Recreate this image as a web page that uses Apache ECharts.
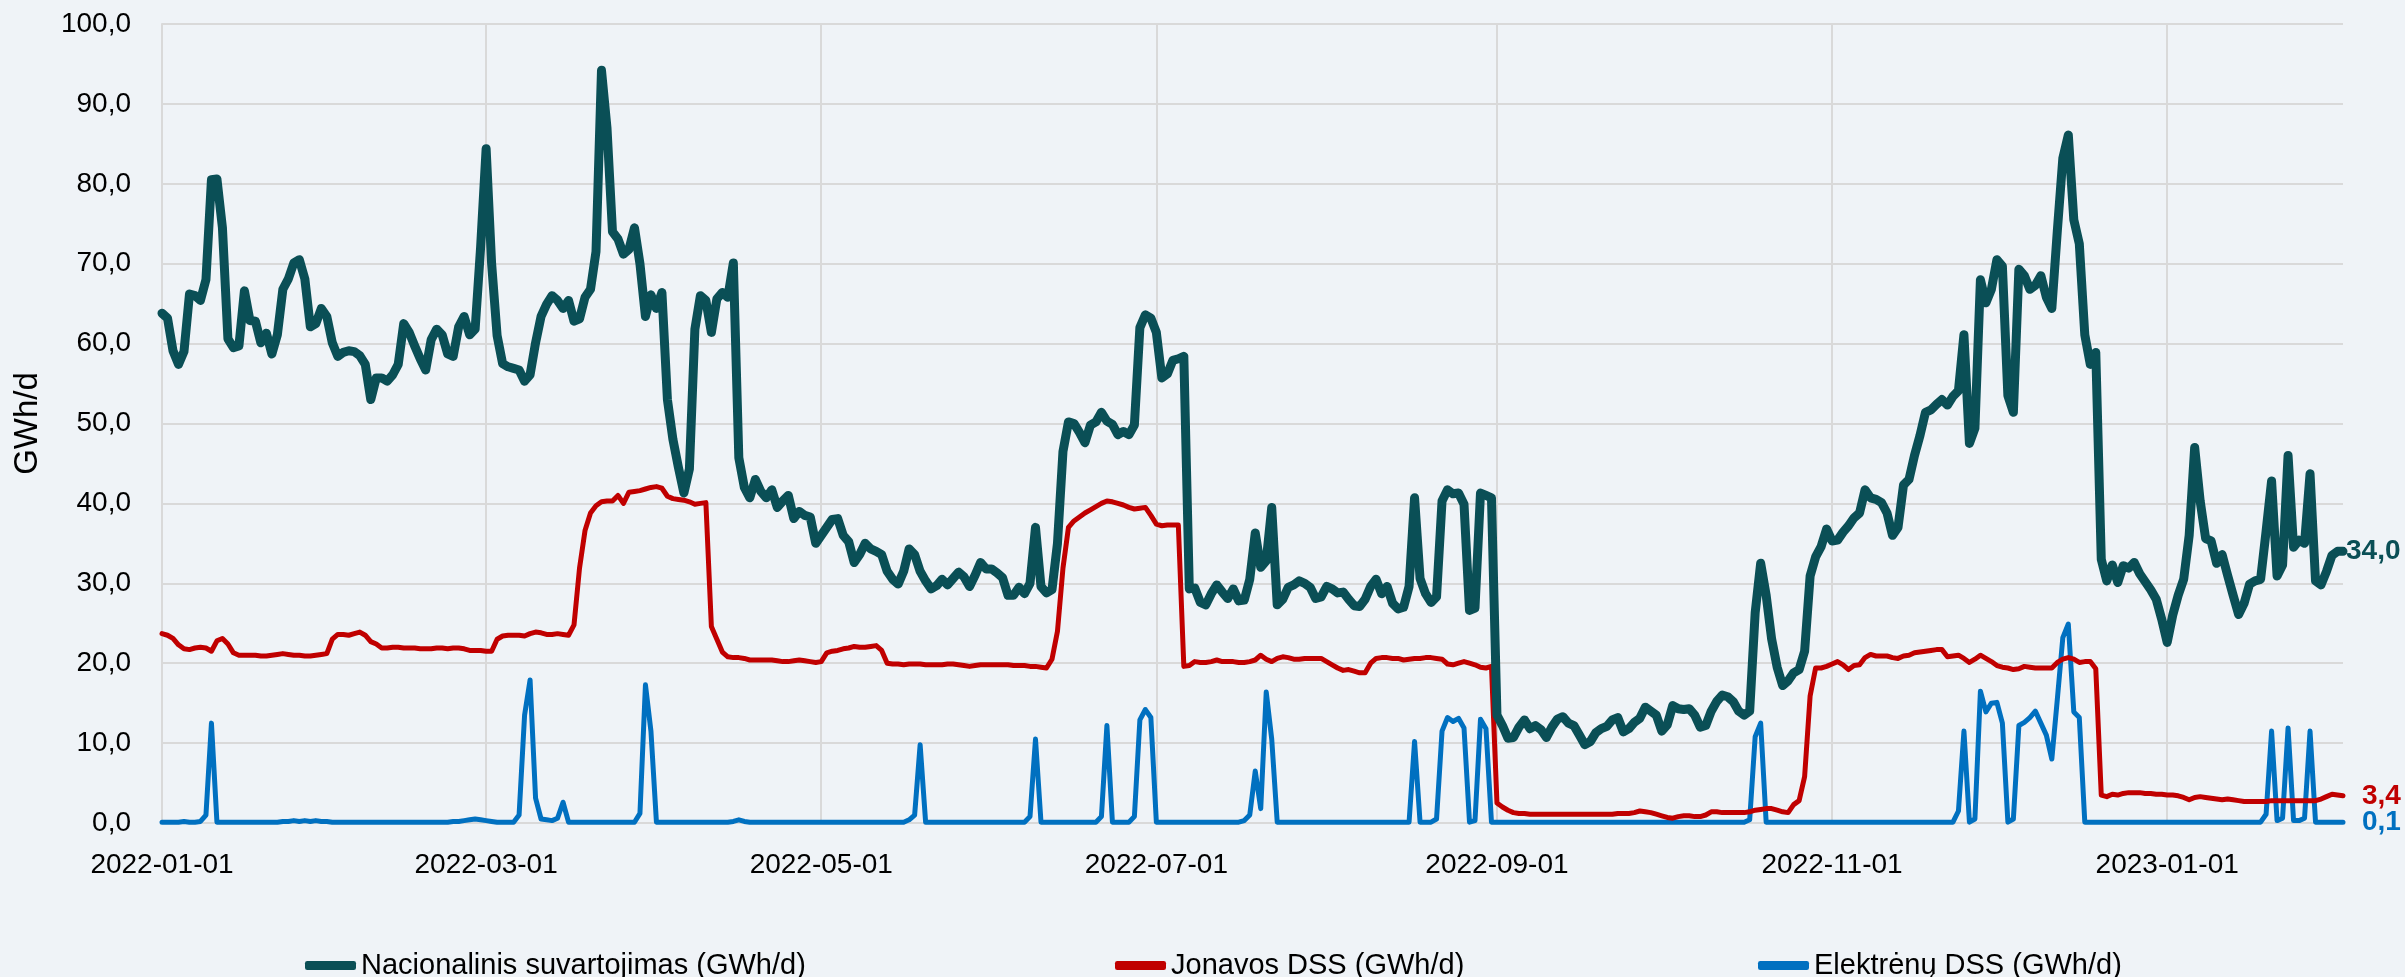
<!DOCTYPE html>
<html>
<head>
<meta charset="utf-8">
<title>Dujų suvartojimas</title>
<script src="https://cdn.jsdelivr.net/npm/echarts/dist/echarts.min.js"></script>
<style>
  html, body { margin: 0; padding: 0; background: #EFF3F7; }
  #chart { width: 2405px; height: 977px; }
</style>
</head>
<body>
<div id="chart"></div>
<script>
// Daily series, one value per day starting at 2022-01-01 (GWh/d)
const startYear = 2022, startMonth = 0, startDay = 1;

const nacionalinis = [
  63.8,63.2,59.1,57.4,59.0,66.2,66.0,65.4,68.0,80.5,
  80.6,74.5,60.6,59.5,59.7,66.6,62.9,62.8,60.1,61.3,
  58.7,61.1,66.8,68.1,70.1,70.5,68.1,62.1,62.5,64.4,
  63.4,60.1,58.4,58.9,59.1,59.0,58.5,57.4,53.0,55.7,
  55.7,55.3,56.1,57.4,62.5,61.4,59.7,58.1,56.7,60.5,
  61.8,61.1,58.7,58.4,62.1,63.4,61.1,61.8,72.1,84.4,
  70.0,61.0,57.5,57.1,56.9,56.7,55.3,56.1,60.1,63.4,
  64.9,66.0,65.4,64.4,65.4,62.8,63.1,65.8,66.8,71.5,
  94.2,87.0,74.0,73.1,71.2,71.8,74.5,70.0,63.4,66.1,
  64.4,66.4,53.0,48.0,44.5,41.3,44.3,61.8,66.0,65.4,
  61.4,65.6,66.4,65.8,70.1,45.7,42.0,40.7,43.0,41.5,
  40.7,41.7,39.5,40.3,41.0,38.1,39.0,38.5,38.3,35.0,
  36.0,37.0,38.0,38.1,36.0,35.2,32.6,33.6,35.0,34.3,
  34.0,33.6,31.5,30.5,29.9,31.5,34.3,33.6,31.5,30.3,
  29.3,29.7,30.5,29.8,30.6,31.4,30.8,29.6,31.0,32.6,
  31.8,31.8,31.3,30.7,28.5,28.5,29.5,28.7,30.0,37.0,
  29.6,28.8,29.2,35.0,46.5,50.2,50.0,48.9,47.6,49.8,
  50.2,51.4,50.3,49.9,48.6,49.0,48.6,49.8,62.0,63.6,
  63.2,61.4,55.7,56.2,57.9,58.1,58.4,29.3,29.4,27.6,
  27.3,28.7,29.8,28.9,28.1,29.3,27.8,27.9,30.5,36.3,
  32.0,32.8,39.5,27.3,28.0,29.5,29.8,30.3,30.0,29.5,
  28.1,28.3,29.6,29.3,28.8,28.9,28.0,27.2,27.1,28.0,
  29.6,30.5,28.7,29.6,27.5,26.8,27.0,29.6,40.7,30.6,
  28.7,27.6,28.3,40.3,41.7,41.2,41.3,39.9,26.6,26.9,
  41.3,41.0,40.7,13.5,12.2,10.6,10.7,12.0,12.9,11.8,
  12.2,11.7,10.7,12.0,13.0,13.3,12.5,12.2,11.0,9.8,
  10.2,11.3,11.8,12.1,12.9,13.2,11.4,11.8,12.6,13.1,
  14.5,14.0,13.5,11.5,12.3,14.7,14.3,14.2,14.3,13.5,
  12.0,12.2,14.0,15.2,16.0,15.8,15.2,14.0,13.5,14.0,
  26.3,32.5,28.5,23.0,19.5,17.2,17.8,18.8,19.2,21.5,
  30.9,33.3,34.6,36.8,35.3,35.4,36.4,37.2,38.2,38.8,
  41.7,40.7,40.5,40.1,38.8,36.0,37.0,42.3,43.0,46.0,
  48.5,51.4,51.7,52.4,53.0,52.3,53.4,54.1,61.1,47.5,
  49.4,68.0,65.1,66.8,70.5,69.7,53.5,51.4,69.3,68.5,
  66.8,67.3,68.5,65.8,64.4,74.1,83.2,86.1,75.5,72.5,
  61.1,57.4,58.9,33.0,30.3,32.3,30.1,32.2,31.9,32.6,
  31.2,30.2,29.2,28.0,25.5,22.6,26.0,28.5,30.5,36.0,
  47.0,40.3,35.6,35.3,32.5,33.6,31.0,28.5,26.1,27.5,
  29.9,30.3,30.5,36.5,42.8,30.9,32.3,46.0,34.5,35.4,
  35.0,43.7,30.3,29.8,31.5,33.5,34.0,34.0
];

const jonavos = [
  23.7,23.5,23.1,22.3,21.8,21.7,21.9,22.0,21.9,21.5,
  22.8,23.1,22.4,21.3,21.0,21.0,21.0,21.0,20.9,20.9,
  21.0,21.1,21.2,21.1,21.0,21.0,20.9,20.9,21.0,21.1,
  21.2,23.0,23.6,23.6,23.5,23.7,23.9,23.5,22.7,22.4,
  21.9,21.9,22.0,22.0,21.9,21.9,21.9,21.8,21.8,21.8,
  21.9,21.9,21.8,21.9,21.9,21.8,21.6,21.6,21.6,21.5,
  21.5,23.0,23.4,23.5,23.5,23.5,23.4,23.7,23.9,23.8,
  23.6,23.6,23.7,23.6,23.5,24.8,31.9,36.6,38.8,39.7,
  40.2,40.3,40.3,41.0,40.0,41.4,41.5,41.6,41.8,42.0,
  42.1,41.9,40.9,40.6,40.5,40.4,40.2,39.9,40.0,40.1,
  24.6,23.0,21.4,20.8,20.7,20.7,20.6,20.4,20.4,20.4,
  20.4,20.4,20.3,20.2,20.2,20.3,20.4,20.3,20.2,20.1,
  20.2,21.3,21.5,21.6,21.8,21.9,22.1,22.0,22.0,22.1,
  22.2,21.6,20.0,19.9,19.9,19.8,19.9,19.9,19.9,19.8,
  19.8,19.8,19.8,19.9,19.9,19.8,19.7,19.6,19.7,19.8,
  19.8,19.8,19.8,19.8,19.8,19.7,19.7,19.7,19.6,19.6,
  19.5,19.4,20.5,24.0,31.9,37.0,37.8,38.3,38.8,39.2,
  39.6,40.0,40.3,40.2,40.0,39.8,39.5,39.3,39.4,39.5,
  38.5,37.4,37.2,37.3,37.3,37.3,19.6,19.7,20.2,20.1,
  20.1,20.2,20.4,20.2,20.2,20.2,20.1,20.1,20.2,20.4,
  21.0,20.5,20.2,20.6,20.8,20.7,20.5,20.5,20.6,20.6,
  20.6,20.6,20.2,19.8,19.4,19.1,19.2,19.0,18.8,18.8,
  20.0,20.6,20.7,20.7,20.6,20.6,20.4,20.5,20.6,20.6,
  20.7,20.7,20.6,20.5,19.9,19.8,20.0,20.2,20.0,19.8,
  19.5,19.4,19.6,2.5,2.0,1.6,1.3,1.2,1.2,1.1,
  1.1,1.1,1.1,1.1,1.1,1.1,1.1,1.1,1.1,1.1,
  1.1,1.1,1.1,1.1,1.1,1.2,1.2,1.2,1.3,1.5,
  1.4,1.3,1.1,0.9,0.7,0.6,0.8,0.9,0.9,0.8,
  0.8,1.0,1.4,1.4,1.3,1.3,1.3,1.3,1.3,1.4,
  1.6,1.7,1.8,1.8,1.6,1.4,1.3,2.3,2.8,5.8,
  15.9,19.4,19.4,19.6,19.9,20.2,19.8,19.2,19.7,19.8,
  20.7,21.1,20.9,20.9,20.9,20.7,20.6,20.9,21.0,21.3,
  21.4,21.5,21.6,21.7,21.7,20.8,20.9,21.0,20.6,20.1,
  20.5,21.0,20.6,20.2,19.7,19.5,19.4,19.2,19.3,19.6,
  19.5,19.4,19.4,19.4,19.4,20.1,20.5,20.7,20.5,20.1,
  20.2,20.2,19.3,3.5,3.3,3.6,3.5,3.7,3.8,3.8,
  3.8,3.7,3.7,3.6,3.6,3.5,3.5,3.4,3.2,2.9,
  3.2,3.3,3.2,3.1,3.0,2.9,3.0,2.9,2.8,2.7,
  2.7,2.7,2.7,2.7,2.8,2.8,2.8,2.8,2.8,2.8,
  2.8,2.8,2.8,3.0,3.3,3.6,3.5,3.4
];

const elektrenu = [
  0.1,0.1,0.1,0.1,0.2,0.1,0.1,0.2,1.0,12.5,
  0.1,0.1,0.1,0.1,0.1,0.1,0.1,0.1,0.1,0.1,
  0.1,0.1,0.2,0.2,0.3,0.2,0.3,0.2,0.3,0.2,
  0.2,0.1,0.1,0.1,0.1,0.1,0.1,0.1,0.1,0.1,
  0.1,0.1,0.1,0.1,0.1,0.1,0.1,0.1,0.1,0.1,
  0.1,0.1,0.1,0.2,0.2,0.3,0.4,0.5,0.4,0.3,
  0.2,0.1,0.1,0.1,0.1,1.0,13.5,17.9,3.1,0.5,
  0.4,0.3,0.6,2.6,0.1,0.1,0.1,0.1,0.1,0.1,
  0.1,0.1,0.1,0.1,0.1,0.1,0.1,1.2,17.3,11.5,
  0.1,0.1,0.1,0.1,0.1,0.1,0.1,0.1,0.1,0.1,
  0.1,0.1,0.1,0.1,0.2,0.4,0.2,0.1,0.1,0.1,
  0.1,0.1,0.1,0.1,0.1,0.1,0.1,0.1,0.1,0.1,
  0.1,0.1,0.1,0.1,0.1,0.1,0.1,0.1,0.1,0.1,
  0.1,0.1,0.1,0.1,0.1,0.1,0.4,1.0,9.8,0.1,
  0.1,0.1,0.1,0.1,0.1,0.1,0.1,0.1,0.1,0.1,
  0.1,0.1,0.1,0.1,0.1,0.1,0.1,0.1,0.8,10.5,
  0.1,0.1,0.1,0.1,0.1,0.1,0.1,0.1,0.1,0.1,
  0.1,0.8,12.2,0.1,0.1,0.1,0.1,0.8,12.9,14.2,
  13.2,0.1,0.1,0.1,0.1,0.1,0.1,0.1,0.1,0.1,
  0.1,0.1,0.1,0.1,0.1,0.1,0.1,0.3,1.0,6.5,
  1.8,16.4,10.5,0.1,0.1,0.1,0.1,0.1,0.1,0.1,
  0.1,0.1,0.1,0.1,0.1,0.1,0.1,0.1,0.1,0.1,
  0.1,0.1,0.1,0.1,0.1,0.1,0.1,0.1,10.2,0.1,
  0.1,0.1,0.5,11.5,13.2,12.7,13.1,11.9,0.1,0.3,
  13.0,11.8,0.1,0.1,0.1,0.1,0.1,0.1,0.1,0.1,
  0.1,0.1,0.1,0.1,0.1,0.1,0.1,0.1,0.1,0.1,
  0.1,0.1,0.1,0.1,0.1,0.1,0.1,0.1,0.1,0.1,
  0.1,0.1,0.1,0.1,0.1,0.1,0.1,0.1,0.1,0.1,
  0.1,0.1,0.1,0.1,0.1,0.1,0.1,0.1,0.1,0.4,
  10.8,12.5,0.1,0.1,0.1,0.1,0.1,0.1,0.1,0.1,
  0.1,0.1,0.1,0.1,0.1,0.1,0.1,0.1,0.1,0.1,
  0.1,0.1,0.1,0.1,0.1,0.1,0.1,0.1,0.1,0.1,
  0.1,0.1,0.1,0.1,0.1,0.1,0.1,1.5,11.5,0.1,
  0.5,16.5,13.9,15.0,15.1,12.5,0.1,0.5,12.2,12.6,
  13.2,14.0,12.5,11.0,8.0,15.5,23.2,24.9,13.9,13.2,
  0.1,0.1,0.1,0.1,0.1,0.1,0.1,0.1,0.1,0.1,
  0.1,0.1,0.1,0.1,0.1,0.1,0.1,0.1,0.1,0.1,
  0.1,0.1,0.1,0.1,0.1,0.1,0.1,0.1,0.1,0.1,
  0.1,0.1,0.1,1.1,11.5,0.3,0.6,11.9,0.3,0.3,
  0.6,11.5,0.1,0.1,0.1,0.1,0.1,0.1
];

// Dates that get a tick label and a vertical grid line
const tickLabels = ['2022-01-01','2022-03-01','2022-05-01','2022-07-01','2022-09-01','2022-11-01','2023-01-01'];

const seriesNames = ['Nacionalinis suvartojimas (GWh/d)', 'Jonavos DSS (GWh/d)', 'Elektrėnų DSS (GWh/d)'];
const seriesColors = ['#0A4F56', '#C00000', '#0070C0'];

// Category axis: one entry per day
function isoDate(d) {
  const y = d.getUTCFullYear();
  const m = String(d.getUTCMonth() + 1).padStart(2, '0');
  const dd = String(d.getUTCDate()).padStart(2, '0');
  return y + '-' + m + '-' + dd;
}
const dates = nacionalinis.map((_, i) => isoDate(new Date(Date.UTC(startYear, startMonth, startDay + i))));

const FONT = "'Liberation Sans', Arial, sans-serif";
const decimalComma = v => Number(v).toFixed(1).replace('.', ',');
const onTick = (idx, val) => tickLabels.indexOf(val) !== -1;

function lineSeries(name, data, color, width, z, labelDistance) {
  return {
    name: name,
    type: 'line',
    data: data,
    symbol: 'none',
    z: z,
    lineStyle: { color: color, width: width, cap: 'round', join: 'round' },
    itemStyle: { color: color },
    emphasis: { disabled: true },
    endLabel: {
      show: true,
      formatter: p => decimalComma(p.value),
      color: color,
      fontFamily: FONT,
      fontWeight: 'bold',
      fontSize: 28,
      distance: labelDistance
    }
  };
}

function legendFor(name, left) {
  return {
    data: [name],
    left: left,
    top: 946,
    icon: 'roundRect',
    itemWidth: 51,
    itemHeight: 9,
    selectedMode: false,
    textStyle: { fontFamily: FONT, fontSize: 29, color: '#000' }
  };
}

const chart = echarts.init(document.getElementById('chart'), null, { renderer: 'canvas' });
chart.setOption({
  animation: false,
  backgroundColor: '#EFF3F7',
  grid: { left: 162, right: 62, top: 24, bottom: 154, containLabel: false },
  legend: [
    legendFor(seriesNames[0], 300),
    legendFor(seriesNames[1], 1110),
    legendFor(seriesNames[2], 1753)
  ],
  xAxis: {
    type: 'category',
    data: dates,
    boundaryGap: false,
    axisLine: { show: true, lineStyle: { color: '#D9D9D9', width: 2 } },
    axisTick: { show: false },
    axisLabel: {
      interval: onTick,
      color: '#000',
      fontFamily: FONT,
      fontSize: 28,
      margin: 28
    },
    splitLine: { show: true, interval: onTick, lineStyle: { color: '#D9D9D9', width: 2 } }
  },
  yAxis: {
    type: 'value',
    min: 0,
    max: 100,
    interval: 10,
    name: 'GWh/d',
    nameLocation: 'middle',
    nameRotate: 90,
    nameGap: 118,
    nameTextStyle: { fontFamily: FONT, fontSize: 33, color: '#000' },
    axisLine: { show: true, lineStyle: { color: '#D9D9D9', width: 2 } },
    axisTick: { show: false },
    axisLabel: {
      formatter: v => decimalComma(v),
      color: '#000',
      fontFamily: FONT,
      fontSize: 28,
      margin: 31
    },
    splitLine: { show: true, lineStyle: { color: '#D9D9D9', width: 2 } }
  },
  series: [
    lineSeries(seriesNames[0], nacionalinis, seriesColors[0], 9, 4, 3),
    lineSeries(seriesNames[1], jonavos, seriesColors[1], 5, 3, 19),
    lineSeries(seriesNames[2], elektrenu, seriesColors[2], 5, 2, 19)
  ]
});
</script>
</body>
</html>
